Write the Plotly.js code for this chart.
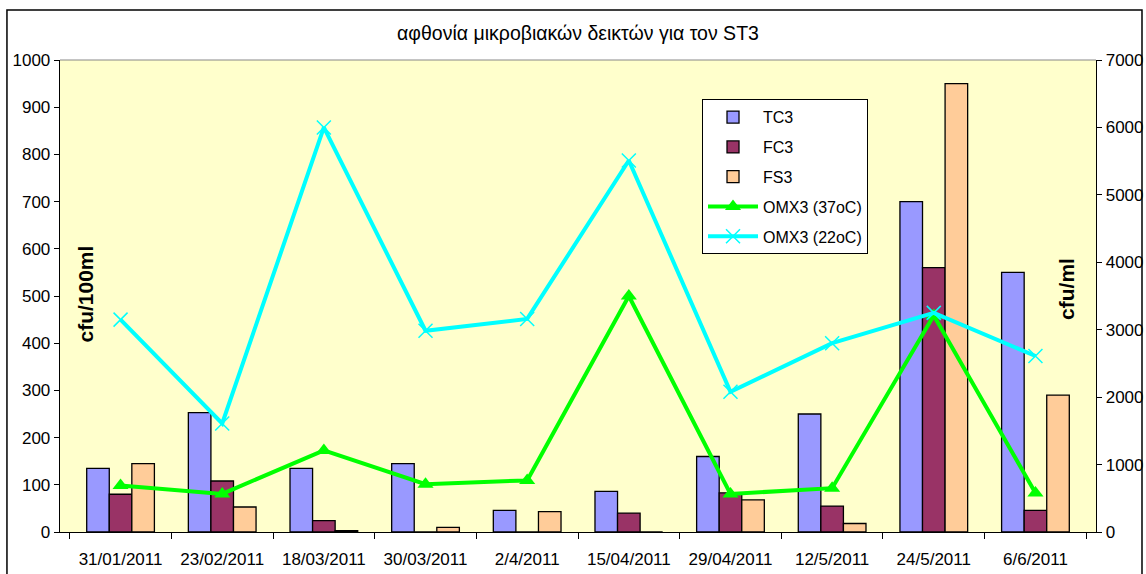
<!DOCTYPE html>
<html>
<head>
<meta charset="utf-8">
<script src="https://cdn.plot.ly/plotly-3.0.1.min.js"></script>
<style>html,body{margin:0;padding:0;background:#fff;}#chart{width:1146px;height:574px;}</style>
</head>
<body>
<div id="chart"></div>
<script>
const categories = ["31/01/2011","23/02/2011","18/03/2011","30/03/2011","2/4/2011","15/04/2011","29/04/2011","12/5/2011","24/5/2011","6/6/2011"];
const tc3 = [135, 253, 135, 145, 46, 86, 160, 250, 700, 550];
const fc3 = [80, 108, 24, 0, 0, 40, 83, 55, 560, 46];
const fs3 = [145, 53, 3, 10, 43, 0, 68, 18, 950, 290];
const omx37 = [690, 565, 1210, 710, 765, 3500, 565, 650, 3210, 580];
const omx22 = [3150, 1610, 6000, 2985, 3160, 5510, 2080, 2800, 3250, 2610];

const fam = "Liberation Sans, Arial, sans-serif";
const font = {family: fam, size: 17, color: "#000"};
const legFont = {family: fam, size: 16, color: "#000"};
const barLine = {color: "#000", width: 1.3};

const traces = [
  {type: "bar", name: "TC3", x: categories, y: tc3, marker: {color: "#9999FF", line: barLine}, legendgroup: "a"},
  {type: "bar", name: "FC3", x: categories, y: fc3, marker: {color: "#993366", line: barLine}, legendgroup: "b"},
  {type: "bar", name: "FS3", x: categories, y: fs3, marker: {color: "#FFCC99", line: barLine}, legendgroup: "c"},
  {type: "scatter", mode: "lines+markers", name: "OMX3 (37oC)", x: categories, y: omx37, yaxis: "y2",
   line: {color: "#00FF00", width: 4}, marker: {symbol: "triangle-up", size: 14, color: "#00FF00"}, legendgroup: "d"},
  {type: "scatter", mode: "lines+markers", name: "OMX3 (22oC)", x: categories, y: omx22, yaxis: "y2",
   line: {color: "#00FFFF", width: 4}, marker: {symbol: "x-thin-open", size: 14, color: "#00FFFF", line: {color: "#00FFFF", width: 1.5}}, legendgroup: "e"}
];

const layout = {
  width: 1146, height: 574,
  margin: {l: 60, r: 50, t: 60, b: 42},
  paper_bgcolor: "#ffffff",
  plot_bgcolor: "#FFFFCC",
  font: font,
  barmode: "group",
  bargap: 0.334,
  bargroupgap: 0,
  title: {text: "αφθονία μικροβιακών δεικτών για τον ST3", font: {family: fam, size: 19.5, color: "#000"},
          x: 0.5, xref: "paper", xanchor: "center", y: 0.942, yanchor: "middle"},
  xaxis: {type: "category", showline: true, linecolor: "#000", linewidth: 1.3, ticks: "outside", ticklen: 6,
          tickcolor: "#000", tickson: "boundaries", showgrid: false, zeroline: false, ticklabelstandoff: 11,
          tickfont: font},
  yaxis: {range: [0, 1000], dtick: 100, showline: true, linecolor: "#000", linewidth: 1.3, ticks: "outside",
          ticklen: 5, tickcolor: "#000", showgrid: false, zeroline: false, tickfont: font},
  yaxis2: {range: [0, 7000], dtick: 1000, overlaying: "y", side: "right", showline: true, linecolor: "#000",
           linewidth: 1.3, ticks: "outside", ticklen: 5, tickcolor: "#000", showgrid: false, zeroline: false,
           tickfont: font},
  showlegend: true,
  legend: {x: 0.6197, y: 0.917, xanchor: "left", yanchor: "top", bgcolor: "#ffffff", bordercolor: "#000",
           borderwidth: 1, font: legFont, traceorder: "grouped", tracegroupgap: 6, itemwidth: 50},
  annotations: [
    {text: "<b>cfu/100ml</b>", xref: "paper", yref: "paper", x: 0.025, y: 0.505, xanchor: "center", yanchor: "middle",
     textangle: -90, showarrow: false, font: {family: fam, size: 21, color: "#000"}},
    {text: "<b>cfu/ml</b>", xref: "paper", yref: "paper", x: 0.972, y: 0.515, xanchor: "center", yanchor: "middle",
     textangle: -90, showarrow: false, font: {family: fam, size: 21, color: "#000"}}
  ],
  shapes: [
    {type: "line", xref: "paper", yref: "paper", x0: 0, x1: 1, y0: 1, y1: 1, line: {color: "#888", width: 1}, layer: "above"},
    {type: "rect", xref: "paper", yref: "paper", x0: -0.0512, x1: 1.0444, y0: -0.12, y1: 1.1059, line: {color: "#000", width: 1.5}, layer: "above"}
  ]
};

Plotly.newPlot("chart", traces, layout, {displayModeBar: false, staticPlot: true});
</script>
</body>
</html>
